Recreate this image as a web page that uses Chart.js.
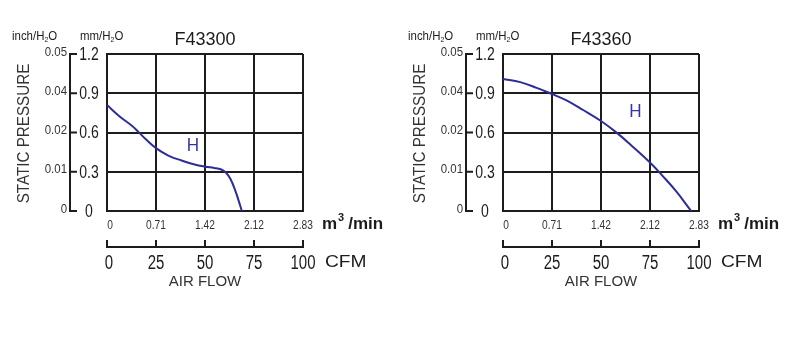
<!DOCTYPE html>
<html>
<head>
<meta charset="utf-8">
<script src="https://cdn.jsdelivr.net/npm/chart.js@4"></script>
<style>
  html, body { margin: 0; padding: 0; background: #fff; }
  body { width: 808px; height: 338px; position: relative; overflow: hidden; }
  .fan { position: absolute; top: 0; width: 400px; height: 338px; }
</style>
</head>
<body>
<div class="fan" style="left:0"><canvas id="f43300" width="400" height="338"></canvas></div>
<div class="fan" style="left:396px"><canvas id="f43360" width="400" height="338"></canvas></div>
<script>
// axis ticks
const cfmTicks = [0, 25, 50, 75, 100];
const m3Labels = ['0', '0.71', '1.42', '2.12', '2.83'];
const mmTicks = [0, 0.3, 0.6, 0.9, 1.2];
const mmLabels = ['0', '0.3', '0.6', '0.9', '1.2'];
const inchLabels = ['0', '0.01', '0.02', '0.04', '0.05'];

// P-Q curves (CFM vs mm H2O)
const f43300Flow = [0, 6.3, 13, 16, 19.7, 25, 31.3, 38, 44.7, 50, 54.7, 58, 60.5, 63, 65.5, 67.2, 68.8];
const f43300Pressure = [0.81, 0.725, 0.648, 0.605, 0.55, 0.481, 0.424, 0.386, 0.355, 0.339, 0.329, 0.319, 0.296, 0.244, 0.154, 0.077, 0];
const f43360Flow = [0, 8.8, 17.2, 24.8, 32.4, 40.9, 49.8, 57.8, 66.2, 75, 81.4, 88.2, 96];
const f43360Pressure = [1.01, 0.985, 0.941, 0.895, 0.846, 0.772, 0.69, 0.601, 0.492, 0.371, 0.269, 0.153, 0];

const INK = '#1c1c1c';
const CURVE = '#2d2d98';

// draws text squeezed or stretched horizontally
function label(ctx, s, x, y, font, align, sx, color) {
    ctx.save();
    ctx.font = font;
    ctx.fillStyle = color || INK;
    ctx.textBaseline = 'middle';
    ctx.textAlign = align;
    ctx.translate(x, y);
    ctx.scale(sx, 1);
    ctx.fillText(s, 0, 0);
    ctx.restore();
}

// unit text with a subscript 2, e.g. inch/H2O
function unitText(ctx, pre, post, x, y) {
    ctx.save();
    ctx.fillStyle = INK;
    ctx.textBaseline = 'alphabetic';
    ctx.translate(x, y);
    ctx.scale(0.88, 1);
    ctx.font = '13px "Liberation Sans", Arial, sans-serif';
    ctx.fillText(pre, 0, 0);
    let w = ctx.measureText(pre).width;
    ctx.font = '8px "Liberation Sans", Arial, sans-serif';
    ctx.fillText('2', w, 2);
    w += ctx.measureText('2').width;
    ctx.font = '13px "Liberation Sans", Arial, sans-serif';
    ctx.fillText(post, w, 0);
    ctx.restore();
}

const fanAxes = {
    id: 'fanAxes',
    afterDraw(chart, args, opts) {
        const ctx = chart.ctx;
        const xs = chart.scales.x;
        const ys = chart.scales.y;
        const ca = chart.chartArea;
        const sans = '"Liberation Sans", Arial, sans-serif';

        ctx.save();
        ctx.strokeStyle = INK;
        ctx.lineWidth = 2;

        // inch bracket on the far left
        const bx = ca.left - 37;
        ctx.beginPath();
        ctx.moveTo(bx, ys.getPixelForValue(1.2));
        ctx.lineTo(bx, ys.getPixelForValue(0));
        mmTicks.forEach(v => {
            const py = ys.getPixelForValue(v);
            ctx.moveTo(bx - 1, py);
            ctx.lineTo(bx + 7, py);
        });
        ctx.stroke();

        mmTicks.forEach((v, i) => {
            const py = ys.getPixelForValue(v);
            label(ctx, inchLabels[i], bx - 3, py - 2, '13px ' + sans, 'right', 0.88, '#333');
            label(ctx, mmLabels[i], ca.left - 18, py + 1, '18px ' + sans, 'center', 0.78);
        });

        // CFM bracket under the plot
        const by = ca.bottom + 36;
        ctx.beginPath();
        ctx.moveTo(xs.getPixelForValue(0), by);
        ctx.lineTo(xs.getPixelForValue(100), by);
        cfmTicks.forEach(v => {
            const px = xs.getPixelForValue(v);
            ctx.moveTo(px, by + 1);
            ctx.lineTo(px, by - 7);
        });
        ctx.stroke();
        ctx.restore();

        cfmTicks.forEach((v, i) => {
            const px = xs.getPixelForValue(v);
            label(ctx, m3Labels[i], px + (i === 0 ? 3 : 0), ca.bottom + 15, '12px ' + sans, 'center', 0.85, '#333');
            label(ctx, String(v), px + (i === 0 ? 2 : 0), by + 16, '20px ' + sans, 'center', 0.75);
        });

        // unit captions
        const mx = ca.right + 19;
        ctx.save();
        ctx.fillStyle = INK;
        ctx.textBaseline = 'alphabetic';
        ctx.font = 'bold 17px ' + sans;
        ctx.fillText('m', mx, ca.bottom + 18);
        let w = ctx.measureText('m').width;
        ctx.font = 'bold 11px ' + sans;
        ctx.fillText('3', mx + w + 1, ca.bottom + 10);
        w += ctx.measureText('3').width + 5;
        ctx.font = 'bold 17px ' + sans;
        ctx.fillText('/min', mx + w, ca.bottom + 18);
        ctx.restore();

        label(ctx, 'CFM', ca.right + 22, by + 16, '16px ' + sans, 'left', 1.2);
        label(ctx, 'AIR FLOW', (ca.left + ca.right) / 2, ca.bottom + 71, '15px ' + sans, 'center', 1, '#333');

        // title and pressure captions
        label(ctx, opts.title, (ca.left + ca.right) / 2, ca.top - 14, '19px ' + sans, 'center', 0.95);
        unitText(ctx, 'inch/H', 'O', ca.left - 95, ca.top - 14);
        unitText(ctx, 'mm/H', 'O', ca.left - 27, ca.top - 14);

        ctx.save();
        ctx.translate(ca.left - 82, (ca.top + ca.bottom) / 2 + 1);
        ctx.rotate(-Math.PI / 2);
        label(ctx, 'STATIC PRESSURE', 0, 0, '16px ' + sans, 'center', 0.95, '#333');
        ctx.restore();

        // curve tag
        label(ctx, 'H', xs.getPixelForValue(opts.tag[0]), ys.getPixelForValue(opts.tag[1]),
            '18px ' + sans, 'center', 0.95, '#3434a6');
    }
};

function fanChart(id, title, flow, pressure, tag) {
    new Chart(document.getElementById(id), {
        type: 'line',
        data: {
            datasets: [{
                data: flow.map((f, i) => ({ x: f, y: pressure[i] })),
                borderColor: CURVE,
                borderWidth: 2,
                pointRadius: 0,
                tension: 0.4,
                fill: false
            }]
        },
        options: {
            responsive: false,
            animation: false,
            layout: { padding: { left: 107, top: 54, right: 97, bottom: 127 } },
            plugins: {
                legend: { display: false },
                tooltip: { enabled: false },
                fanAxes: { title: title, tag: tag }
            },
            scales: {
                x: {
                    type: 'linear', min: 0, max: 100,
                    ticks: { display: false, stepSize: 25 },
                    grid: { color: INK, lineWidth: 2, drawTicks: false },
                    border: { color: INK, width: 2 }
                },
                y: {
                    min: 0, max: 1.2,
                    ticks: { display: false, stepSize: 0.3 },
                    grid: { color: INK, lineWidth: 2, drawTicks: false },
                    border: { color: INK, width: 2 }
                }
            }
        },
        plugins: [fanAxes]
    });
}

fanChart('f43300', 'F43300', f43300Flow, f43300Pressure, [43.9, 0.50]);
fanChart('f43360', 'F43360', f43360Flow, f43360Pressure, [67.6, 0.76]);
</script>
</body>
</html>
